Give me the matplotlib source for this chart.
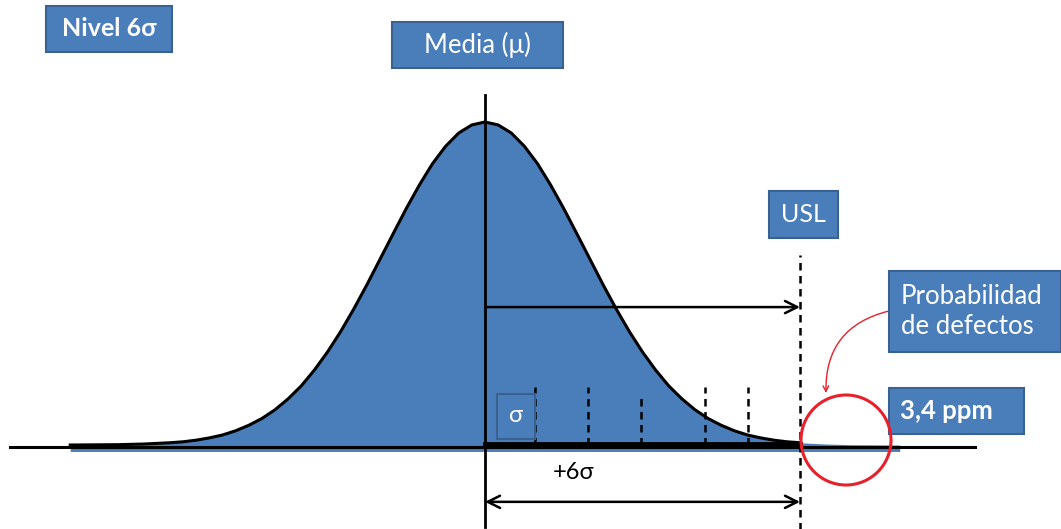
import numpy as np
import matplotlib.pyplot as plt
from matplotlib.patches import Rectangle, Circle

# bell curve: position in sigma-tick units, height (peak = 1)
half_u = [0.0, 0.25, 0.5, 0.75, 1.0, 1.25, 1.5, 1.75, 2.0, 2.25, 2.5, 2.75, 3.0,
          3.25, 3.5, 3.75, 4.0, 4.25, 4.5, 4.75, 5.0, 5.25, 5.5, 5.75, 6.0,
          6.5, 7.0, 7.9]
half_h = [1.0, 0.991, 0.966, 0.925, 0.871, 0.805, 0.732, 0.654, 0.575, 0.496,
          0.421, 0.351, 0.288, 0.232, 0.183, 0.143, 0.109, 0.082, 0.061, 0.044,
          0.031, 0.022, 0.015, 0.010, 0.007, 0.003, 0.001, 0.0]

mean_pos = 0.0
usl_pos = 6.0
sigma_ticks = [0.95, 1.96, 2.97, 4.19, 5.01]
sigma_tick_tops = [0.18, 0.18, 0.155, 0.18, 0.18]

title_label = "Nivel 6σ"
mean_label = "Media (μ)"
usl_label = "USL"
prob_label = "Probabilidad\nde defectos"
ppm_label = "3,4 ppm"
span_label = "+6σ"

blue = "#4a7ebb"
edge = "#3a6291"
fam = ["Lato", "DejaVu Sans"]

curve_u = np.array([-u for u in half_u[::-1]] + half_u[1:])
curve_h = np.array(half_h[::-1] + half_h[1:])

fig = plt.figure(figsize=(10.61, 5.29), dpi=100)
ax = fig.add_axes([0, 0, 1, 1])
ax.set_xlim(-485 / 52.5, (1061 - 485) / 52.5)
ax.set_ylim(-84 / 323, 445 / 323)
ax.axis('off')

# filled distribution (slight blue strip runs under the baseline)
ax.fill_between(curve_u, curve_h, -0.02, color=blue, lw=0, zorder=1)
ax.plot([-9.05, 9.33], [-0.006, -0.006], color='black', lw=2.2, zorder=2)
inside = curve_u <= usl_pos
ax.plot(curve_u[inside], curve_h[inside], color='black', lw=2.2, zorder=3)

# mean axis and the thick line up to the USL
ax.plot([mean_pos, mean_pos], [-0.254, 1.084], color='black', lw=2, zorder=4)
ax.plot([mean_pos, usl_pos], [0.003, 0.003], color='black', lw=3.5, zorder=4)

# sigma marks
ax.vlines(sigma_ticks, 0, sigma_tick_tops, colors='black', linestyles=(0, (3, 2.2)),
          lw=1.8, zorder=3)
ax.vlines([usl_pos], -0.27, 0.588, colors='black', linestyles=(0, (3, 2.2)),
          lw=1.8, zorder=3)

# arrows
ax.annotate("", xy=(usl_pos, 0.427), xytext=(mean_pos, 0.427),
            arrowprops=dict(arrowstyle='->', lw=1.8, color='black',
                            shrinkA=0, shrinkB=0, mutation_scale=22))
ax.annotate("", xy=(usl_pos, -0.176), xytext=(mean_pos, -0.176),
            arrowprops=dict(arrowstyle='<->', lw=1.8, color='black',
                            shrinkA=0, shrinkB=0, mutation_scale=22))
ax.text(1.68, -0.084, span_label, fontsize=17, family=fam, ha='center', va='center')

# overlay in pixel coordinates for the labels
ov = fig.add_axes([0, 0, 1, 1])
ov.set_xlim(0, 1061)
ov.set_ylim(529, 0)
ov.axis('off')
ov.patch.set_alpha(0)


def box(x0, y0, x1, y1, text, size, bold=False, ha='center', tx=None):
    ov.add_patch(Rectangle((x0, y0), x1 - x0, y1 - y0, facecolor=blue,
                           edgecolor=edge, lw=1.5, zorder=5))
    if tx is None:
        tx = (x0 + x1) / 2
    ov.text(tx, (y0 + y1) / 2, text, color='white', fontsize=size, ha=ha,
            va='center', family=fam, fontweight='bold' if bold else 'normal',
            linespacing=1.25, zorder=6)


box(46, 6, 172, 52, title_label, 18, bold=True)
box(392, 22, 563, 68, mean_label, 18.5)
box(769, 191, 838, 238, usl_label, 18)
box(889, 271, 1061, 352, prob_label, 18.5, ha='left', tx=901)
box(889, 388, 1024, 434, ppm_label, 18.5, bold=True, ha='left', tx=900)
ov.add_patch(Rectangle((497, 394), 38, 45, facecolor=blue, edgecolor=edge,
                       lw=1.5, zorder=5))
ov.text(516, 415, "σ", color='white', fontsize=17, ha='center', va='center',
        family=fam, zorder=6)

# defect region marker
ov.add_patch(Circle((846, 440), 45, fill=False, edgecolor='#e8202a', lw=2.2, zorder=6))
ov.annotate("", xy=(826, 393), xytext=(889, 311),
            arrowprops=dict(arrowstyle='->', color='#e8202a', lw=1,
                            connectionstyle='arc3,rad=0.4', shrinkA=0, shrinkB=0))

fig.savefig("out.png", dpi=100)
